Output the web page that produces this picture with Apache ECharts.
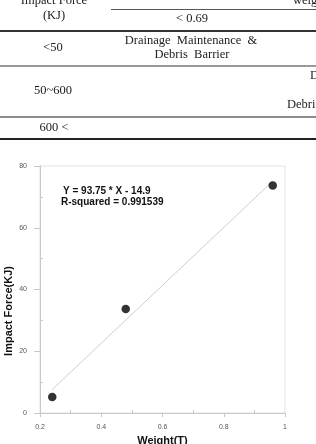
<!DOCTYPE html>
<html>
<head>
<meta charset="utf-8">
<script src="https://cdn.jsdelivr.net/npm/echarts@6/dist/echarts.min.js"></script>
<style>
html,body{margin:0;padding:0;background:#fff;}
#c{width:316px;height:444px;}
</style>
</head>
<body>
<div id="c"></div>
<script>
// ---- data ----
var weights = [0.24, 0.48, 0.96];
var forces = [5.2, 33.7, 73.7];
var fitSlope = 93.75;
var fitIntercept = -14.9;
var rSquared = '0.991539';
var xTicks = [0.2, 0.4, 0.6, 0.8, 1];
var yTicks = [0, 20, 40, 60, 80];
var tableHeader = ['Impact Force', '(KJ)', 'weight (T)', '< 0.69'];
var tableForceRows = ['<50', '50~600', '600 <'];
var tableMeasure = ['Drainage  Maintenance  &', 'Debris  Barrier'];

var fitXs = [Math.min.apply(null, weights), Math.max.apply(null, weights)];
var fitLine = fitXs.map(function (x) { return [x, fitSlope * x + fitIntercept]; });
var points = weights.map(function (w, i) { return [w, forces[i]]; });

var serif = '"Liberation Serif", "DejaVu Serif", serif';
var sans = '"Liberation Sans", Arial, sans-serif';
var tc = '#222';

function t(text, x, y, align, extra) {
  var s = { text: text, x: x, y: y, align: align || 'center', verticalAlign: 'middle',
    fontFamily: serif, fontSize: 12.5, fill: tc };
  if (extra) for (var k in extra) s[k] = extra[k];
  return { type: 'text', style: s, silent: true };
}
function hl(y, x1, w, c) {
  return { type: 'line', shape: { x1: x1, y1: y, x2: 316, y2: y }, style: { stroke: c, lineWidth: w }, silent: true };
}

var chart = echarts.init(document.getElementById('c'));
chart.setOption({
  animation: false,
  backgroundColor: '#fff',
  grid: { left: 40, right: 31, top: 166, bottom: 31, show: true, borderColor: '#e2e2e2', borderWidth: 1,
    containLabel: false, outerBoundsMode: 'none' },
  xAxis: {
    type: 'value', min: xTicks[0], max: xTicks[xTicks.length - 1], interval: 0.2,
    name: 'Weight(T)', nameLocation: 'middle', nameGap: 19,
    nameTextStyle: { fontFamily: sans, fontSize: 11, fontWeight: 'bold', color: '#111', verticalAlign: 'top' },
    axisLine: { show: true, onZero: false, lineStyle: { color: '#c8c8c8', width: 1 } },
    axisTick: { show: true, length: 4, lineStyle: { color: '#c8c8c8' } },
    minorTick: { show: true, splitNumber: 2, length: -3, lineStyle: { color: '#c8c8c8' } },
    splitLine: { show: false },
    axisLabel: { fontFamily: sans, fontSize: 7, color: '#555', margin: 11,
      formatter: function (v) { return String(Math.round(v * 10) / 10); } }
  },
  yAxis: {
    type: 'value', min: yTicks[0], max: yTicks[yTicks.length - 1], interval: 20,
    axisLine: { show: true, onZero: false, lineStyle: { color: '#c8c8c8', width: 1 } },
    axisTick: { show: true, length: 6, lineStyle: { color: '#c8c8c8' } },
    minorTick: { show: true, splitNumber: 2, length: -3, lineStyle: { color: '#c8c8c8' } },
    splitLine: { show: false },
    axisLabel: { fontFamily: sans, fontSize: 7, color: '#555', margin: 13 }
  },
  series: [
    { type: 'line', data: fitLine, symbol: 'none', lineStyle: { color: '#cfcfcf', width: 1 }, silent: true, z: 1 },
    { type: 'scatter', data: points, symbol: 'circle', symbolSize: 8.5, itemStyle: { color: '#000' }, z: 3 }
  ],
  graphic: [
    hl(9.5, 111, 1, '#555'),
    hl(31, 0, 2, '#333'),
    hl(66, 0, 1.5, '#777'),
    hl(117, 0, 1.5, '#666'),
    hl(139, 0, 2, '#222'),
    t(tableHeader[0], 54, 1),
    t(tableHeader[1], 54, 16),
    t(tableHeader[2], 293, 1, 'left'),
    t(tableHeader[3], 192, 19),
    t(tableForceRows[0], 53, 48),
    t(tableMeasure[0], 191, 41),
    t(tableMeasure[1], 192, 55),
    t(tableForceRows[1], 53, 91),
    t(tableMeasure[0], 310, 76, 'left'),
    t(tableMeasure[1], 287, 105, 'left'),
    t(tableForceRows[2], 54, 128),
    t('Y = ' + fitSlope + ' * X - ' + Math.abs(fitIntercept), 63, 191, 'left', { fontFamily: sans, fontSize: 10, fontWeight: 'bold', fill: '#111' }),
    t('R-squared = ' + rSquared, 61, 202, 'left', { fontFamily: sans, fontSize: 10, fontWeight: 'bold', fill: '#111' }),
    { type: 'text', x: 9, y: 311, rotation: Math.PI / 2, silent: true,
      style: { text: 'Impact Force(KJ)', align: 'center', verticalAlign: 'middle', fontFamily: sans, fontSize: 11, fontWeight: 'bold', fill: '#111' } }
  ]
});
</script>
</body>
</html>
